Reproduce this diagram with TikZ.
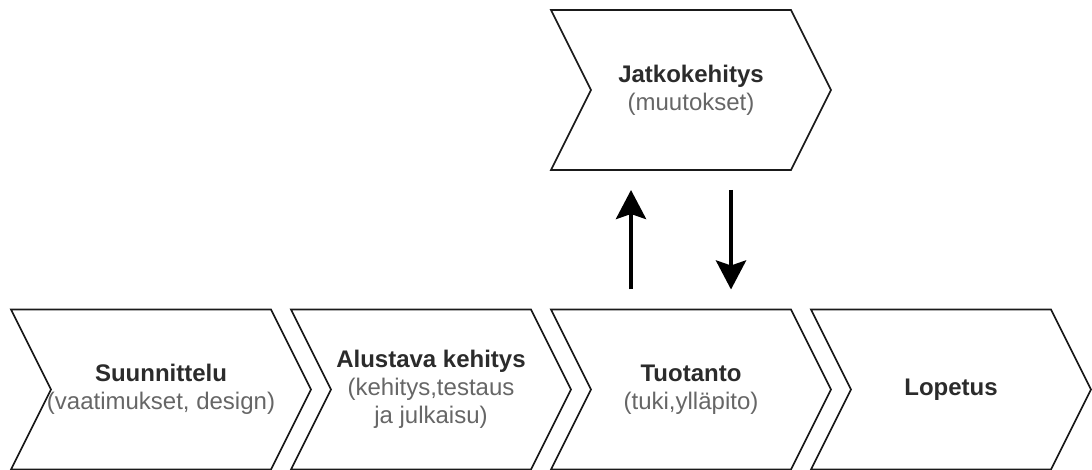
\documentclass[tikz,border=0pt]{standalone}
\usepackage{fontspec}
\setmainfont{Liberation Sans}
\usetikzlibrary{arrows.meta}
\definecolor{tmain}{HTML}{2B2B2B}
\definecolor{tsub}{HTML}{666666}
\definecolor{lineC}{HTML}{1A1A1A}
\tikzset{
  chev/.style={minimum height=160pt, minimum width=#1, inner sep=0pt, outer sep=0pt,
    align=center, font=\fontsize{24}{28}\selectfont},
  chevline/.style={draw=lineC, line width=1.6pt, line join=miter},
  arr/.style={line width=4.5pt, -{Stealth[length=29pt, width=30pt, inset=5pt]}},
}
\newcommand{\ttl}[1]{\textcolor{tmain}{\bfseries #1}}
\newcommand{\sbt}[1]{\textcolor{tsub}{#1}}
\begin{document}
\begin{tikzpicture}[x=1pt, y=-1pt]
\useasboundingbox (0,0) rectangle (1092,470);
\node[chev=300pt] (suu) at (161,389.5) {\ttl{Suunnittelu}\\\sbt{(vaatimukset, design)}};
\node[chev=280pt] (alu) at (431,389.5) {\ttl{Alustava kehitys}\\\sbt{(kehitys,testaus}\\\sbt{ja julkaisu)}};
\node[chev=280pt] (tuo) at (691,389.5) {\ttl{Tuotanto}\\\sbt{(tuki,ylläpito)}};
\node[chev=280pt] (lop) at (951,389.5) {\ttl{Lopetus}};
\node[chev=280pt] (jat) at (691,90) {\ttl{Jatkokehitys}\\\sbt{(muutokset)}};
\foreach \n in {suu,alu,tuo,lop,jat}
  \draw[chevline] (\n.north west) -- ([xshift=-40pt]\n.north east)
      -- (\n.east) -- ([xshift=-40pt]\n.south east)
      -- (\n.south west) -- ([xshift=40pt]\n.west) -- cycle;
\draw[arr] ([xshift=-60pt, yshift=20pt]tuo.north) -- ([xshift=-60pt, yshift=-20pt]jat.south);
\draw[arr] ([xshift=40pt, yshift=-20pt]jat.south) -- ([xshift=40pt, yshift=20pt]tuo.north);
\end{tikzpicture}
\end{document}
